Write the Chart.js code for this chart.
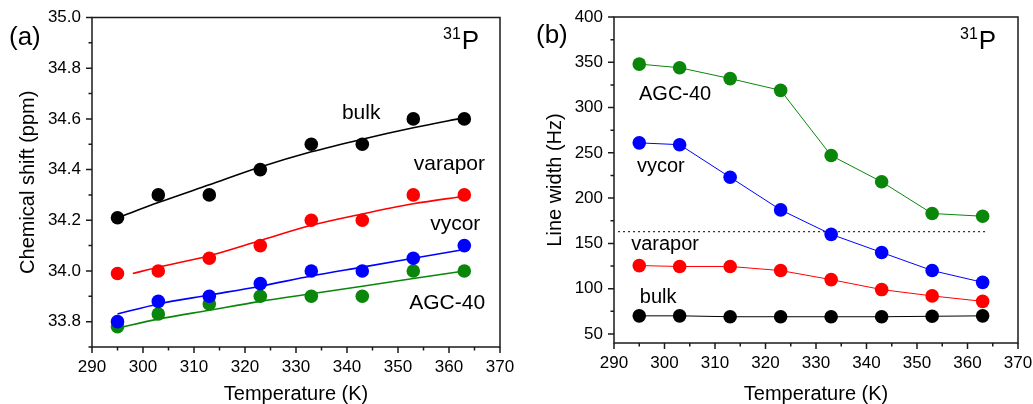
<!DOCTYPE html>
<html>
<head>
<meta charset="utf-8">
<script src="https://cdn.jsdelivr.net/npm/chart.js@4.4.1/dist/chart.umd.min.js"></script>
<style>
  html, body { margin: 0; padding: 0; background: #fff; }
  body { width: 1033px; height: 404px; position: relative; overflow: hidden; }
  .panel { position: absolute; top: 0; height: 404px; }
  #pa { left: 0; width: 516px; }
  #pb { left: 516px; width: 517px; }
</style>
</head>
<body>
<div class="panel" id="pa"><canvas id="ca"></canvas></div>
<div class="panel" id="pb"><canvas id="cb"></canvas></div>
<script>
// ---------- data ----------
const temps = [295, 303, 313, 323, 333, 343, 353, 363];

// (a) chemical shift (ppm)
const shiftBulk    = [34.21, 34.30, 34.30, 34.40, 34.50, 34.50, 34.60, 34.60];
const shiftVarapor = [33.99, 34.00, 34.05, 34.10, 34.20, 34.20, 34.30, 34.30];
const shiftVycor   = [33.80, 33.88, 33.90, 33.95, 34.00, 34.00, 34.05, 34.10];
const shiftAGC     = [33.78, 33.83, 33.87, 33.90, 33.90, 33.90, 34.00, 34.00];

// (a) fitted curves
const fitTemps        = [295, 303, 313, 323, 333, 343, 353, 363];
const fitVaraporTemps = [298, 303, 313, 323, 333, 343, 353, 363];
const fitBulk    = [34.21, 34.27, 34.34, 34.41, 34.47, 34.52, 34.565, 34.605];
const fitVarapor = [33.99, 34.015, 34.06, 34.12, 34.18, 34.225, 34.265, 34.295];
const fitVycor   = [33.83, 33.87, 33.905, 33.94, 33.98, 34.015, 34.05, 34.085];
const fitAGC     = [33.775, 33.81, 33.845, 33.88, 33.91, 33.94, 33.97, 34.0];

// (b) line width (Hz)
const widthAGC     = [348, 344, 332, 319, 247, 218, 183, 180];
const widthVycor   = [261, 259, 223, 187, 160, 140, 120, 107];
const widthVarapor = [125.5, 124.5, 124.5, 120, 110, 99, 92, 86];
const widthBulk    = [70, 70, 69, 69, 69, 69, 69.5, 70];
const refLineT = [290.8, 363.6];
const refLineW = [163, 163];

// tick labels
const tempTicks  = [290, 300, 310, 320, 330, 340, 350, 360, 370];
const shiftTicks = [33.8, 34.0, 34.2, 34.4, 34.6, 34.8, 35.0];
const widthTicks = [50, 100, 150, 200, 250, 300, 350, 400];

// ---------- helpers ----------
const FONT = "'Liberation Sans', Arial, Helvetica, sans-serif";
const GREEN = '#0a870a';
const toXY = (xs, ys) => xs.map((x, i) => ({ x: x, y: ys[i] }));
const mids = arr => arr.slice(1).map((v, i) => (v + arr[i]) / 2);

const frameTicks = {
  id: 'frameTicks',
  afterDatasetsDraw(chart, args, opts) {
    const { ctx, chartArea: { left, right, top, bottom }, scales: { x, y } } = chart;
    ctx.save();
    ctx.strokeStyle = '#1a1a1a';
    ctx.lineWidth = 1.5;
    ctx.strokeRect(left, top, right - left, bottom - top);
    ctx.beginPath();
    const xt = (v, len) => { const p = x.getPixelForValue(v); ctx.moveTo(p, bottom); ctx.lineTo(p, bottom + len); };
    const yt = (v, len) => { const p = y.getPixelForValue(v); ctx.moveTo(left, p); ctx.lineTo(left - len, p); };
    opts.xMajor.forEach(v => xt(v, 6));
    mids(opts.xMajor).forEach(v => xt(v, 3.5));
    opts.yMajor.forEach(v => yt(v, 6));
    mids(opts.yMajor).forEach(v => yt(v, 3.5));
    (opts.yExtraMinor || []).forEach(v => yt(v, 3.5));
    ctx.stroke();
    ctx.restore();
  }
};

const textLabels = {
  id: 'textLabels',
  afterDraw(chart, args, opts) {
    const { ctx, scales: { x, y } } = chart;
    ctx.save();
    ctx.fillStyle = '#000';
    ctx.textBaseline = 'alphabetic';
    ctx.textAlign = 'left';
    ctx.font = opts.size + 'px ' + FONT;
    opts.items.forEach(it => ctx.fillText(it.text, x.getPixelForValue(it.x), y.getPixelForValue(it.y)));
    // panel tag
    ctx.font = '26px ' + FONT;
    ctx.textBaseline = 'middle';
    ctx.fillText(opts.tag.text, opts.tag.px, opts.tag.py);
    // isotope 31P
    ctx.textBaseline = 'alphabetic';
    ctx.font = '16px ' + FONT;
    ctx.fillText('31', opts.iso.px, opts.iso.py - 10);
    const w = ctx.measureText('31').width;
    ctx.font = '26px ' + FONT;
    ctx.fillText('P', opts.iso.px + w + 1, opts.iso.py);
    ctx.restore();
  }
};

function baseOptions(cfg) {
  return {
    responsive: false,
    animation: false,
    events: [],
    layout: { padding: { top: cfg.padTop, right: cfg.padRight, left: 0, bottom: 0 } },
    plugins: {
      legend: { display: false },
      tooltip: { enabled: false },
      frameTicks: cfg.frame,
      textLabels: cfg.labels
    },
    scales: {
      x: {
        type: 'linear', min: 290, max: 370,
        afterBuildTicks: s => { s.ticks = tempTicks.map(v => ({ value: v })); },
        afterFit: s => { s.height = cfg.xHeight; s.paddingLeft = 0; s.paddingRight = 0; },
        grid: { display: false, drawTicks: false },
        border: { display: false },
        ticks: { color: '#000', font: { family: FONT, size: 17 }, padding: 10, maxRotation: 0, autoSkip: false },
        title: { display: true, text: 'Temperature (K)', color: '#000',
                 font: { family: FONT, size: 20, lineHeight: 1 }, padding: { top: 0, bottom: 0 } }
      },
      y: {
        type: 'linear', min: cfg.yMin, max: cfg.yMax,
        afterBuildTicks: s => { s.ticks = cfg.yTicks.map(v => ({ value: v })); },
        afterFit: s => { s.width = cfg.yWidth; s.paddingTop = 0; s.paddingBottom = 0; },
        grid: { display: false, drawTicks: false },
        border: { display: false },
        ticks: { color: '#000', font: { family: FONT, size: 17 }, padding: 11, autoSkip: false,
                 callback: cfg.yFmt },
        title: { display: true, text: cfg.yTitle, color: '#000',
                 font: { family: FONT, size: 20, lineHeight: 1 }, padding: { top: cfg.yTitlePad, bottom: 0 } }
      }
    }
  };
}

// ---------- chart (a) ----------
const ptStyle = c => ({ showLine: false, pointRadius: 6.8, pointBackgroundColor: c, pointBorderColor: c, pointBorderWidth: 0, borderColor: c, backgroundColor: c });
const fitStyle = c => ({ showLine: true, pointRadius: 0, borderColor: c, borderWidth: 1.6, tension: 0.4, cubicInterpolationMode: 'monotone', fill: false });

const ca = document.getElementById('ca');
ca.width = 516; ca.height = 404;
new Chart(ca, {
  type: 'scatter',
  data: {
    datasets: [
      Object.assign({ data: toXY(temps, shiftBulk), order: 0 }, ptStyle('#000000')),
      Object.assign({ data: toXY(temps, shiftVarapor), order: 0 }, ptStyle('#ff0000')),
      Object.assign({ data: toXY(temps, shiftVycor), order: 0 }, ptStyle('#0000ff')),
      Object.assign({ data: toXY(temps, shiftAGC), order: 0 }, ptStyle(GREEN)),
      Object.assign({ data: toXY(fitTemps, fitBulk), order: 1 }, fitStyle('#000000')),
      Object.assign({ data: toXY(fitVaraporTemps, fitVarapor), order: 1 }, fitStyle('#ff0000')),
      Object.assign({ data: toXY(fitTemps, fitVycor), order: 1 }, fitStyle('#0000ff')),
      Object.assign({ data: toXY(fitTemps, fitAGC), order: 1 }, fitStyle(GREEN))
    ]
  },
  options: baseOptions({
    padTop: 17.5, padRight: 16, xHeight: 57, yWidth: 92,
    yMin: 33.7, yMax: 35.0, yTicks: shiftTicks, yFmt: v => Number(v).toFixed(1),
    yTitle: 'Chemical shift (ppm)', yTitlePad: 18,
    frame: { xMajor: tempTicks, yMajor: shiftTicks, yExtraMinor: [33.7] },
    labels: {
      size: 21,
      items: [
        { text: 'bulk', x: 339.0, y: 34.60 },
        { text: 'varapor', x: 353.1, y: 34.40 },
        { text: 'vycor', x: 356.3, y: 34.162 },
        { text: 'AGC-40', x: 352.2, y: 33.85 }
      ],
      tag: { text: '(a)', px: 9, py: 38 },
      iso: { px: 443, py: 49 }
    }
  }),
  plugins: [frameTicks, textLabels]
});

// ---------- chart (b) ----------
const lineStyle = c => ({ showLine: true, pointRadius: 6.8, pointBackgroundColor: c, pointBorderColor: c, pointBorderWidth: 0, borderColor: c, borderWidth: 1, tension: 0, fill: false });

const cb = document.getElementById('cb');
cb.width = 517; cb.height = 404;
new Chart(cb, {
  type: 'scatter',
  data: {
    datasets: [
      { data: toXY(refLineT, refLineW), showLine: true, pointRadius: 0, borderColor: '#333', borderWidth: 1.2, borderDash: [2, 3], order: 5 },
      Object.assign({ data: toXY(temps, widthAGC), order: 1 }, lineStyle(GREEN)),
      Object.assign({ data: toXY(temps, widthVycor), order: 1 }, lineStyle('#0000ff')),
      Object.assign({ data: toXY(temps, widthVarapor), order: 1 }, lineStyle('#ff0000')),
      Object.assign({ data: toXY(temps, widthBulk), order: 1 }, lineStyle('#000000'))
    ]
  },
  options: baseOptions({
    padTop: 17, padRight: 15, xHeight: 61, yWidth: 98,
    yMin: 40, yMax: 400, yTicks: widthTicks, yFmt: v => String(v),
    yTitle: 'Line width (Hz)', yTitlePad: 29,
    frame: { xMajor: tempTicks, yMajor: widthTicks, yExtraMinor: [] },
    labels: {
      size: 20,
      items: [
        { text: 'AGC-40', x: 294.95, y: 308.4 },
        { text: 'vycor', x: 294.55, y: 228.9 },
        { text: 'varapor', x: 293.4, y: 142.8 },
        { text: 'bulk', x: 295.1, y: 84.3 }
      ],
      tag: { text: '(b)', px: 20, py: 36 },
      iso: { px: 444, py: 49 }
    }
  }),
  plugins: [frameTicks, textLabels]
});
</script>
</body>
</html>
